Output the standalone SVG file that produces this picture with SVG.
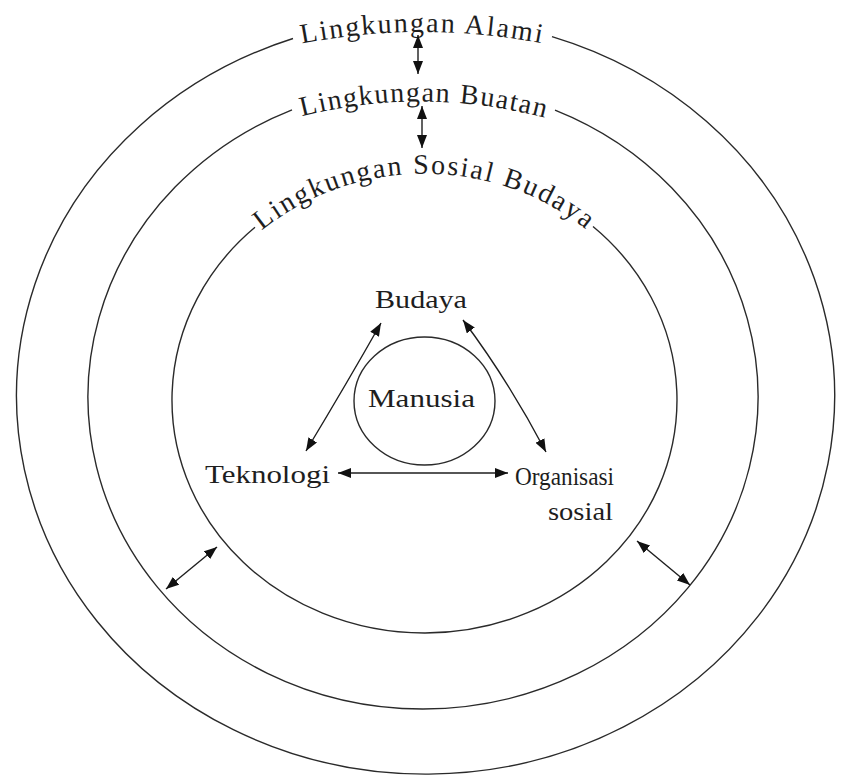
<svg xmlns="http://www.w3.org/2000/svg" width="841" height="778" viewBox="0 0 841 778">
  <style>
    .ring { fill: none; stroke: #2a2a2a; stroke-width: 1.4; }
    .lbl { font-family: "Liberation Serif", "Times New Roman", serif; fill: #1e1e1e; }
    .ringlbl { font-size: 28px; }
    .nodelbl { font-size: 25px; }
    .conn { fill: none; stroke: #1e1e1e; stroke-width: 1.4; marker-start: url(#ah); marker-end: url(#ah); }
  </style>
  <defs>
    <marker id="ah" viewBox="0 0 13 10" refX="13" refY="5" markerWidth="13" markerHeight="10" markerUnits="userSpaceOnUse" orient="auto-start-reverse">
      <path d="M0,0 L13,5 L0,10 z" fill="#111"/>
    </marker>
    <path id="tp-alami" d="M 290 46 Q 422 18 555 46"/>
    <path id="tp-buatan" d="M 288 120 Q 423 82 560 122"/>
    <path id="tp-sosial" d="M 240 251 A 245 226 0 0 1 609 251"/>
  </defs>
  <rect width="841" height="778" fill="#ffffff"/>

  <g id="ring-alami">
    <path class="ring" d="M 552 36.6 A 409 378 0 1 1 293 38.5"/>
    <text class="lbl ringlbl" text-anchor="middle" letter-spacing="2"><textPath href="#tp-alami" startOffset="50%">Lingkungan Alami</textPath></text>
  </g>
  <g id="ring-buatan">
    <path class="ring" d="M 555 110.2 A 335 312 0 1 1 292 109.8"/>
    <text class="lbl ringlbl" text-anchor="middle" letter-spacing="1.5"><textPath href="#tp-buatan" startOffset="50%">Lingkungan Buatan</textPath></text>
  </g>
  <g id="ring-sosial">
    <path class="ring" d="M 593 226.5 A 252.5 233 0 1 1 255 227.3"/>
    <text class="lbl ringlbl" text-anchor="middle" letter-spacing="2"><textPath href="#tp-sosial" startOffset="50%">Lingkungan Sosial Budaya</textPath></text>
  </g>

  <g id="node-manusia">
    <ellipse class="ring" cx="424.5" cy="401" rx="70.5" ry="64"/>
    <text class="lbl nodelbl" x="368" y="407" textLength="107" lengthAdjust="spacingAndGlyphs">Manusia</text>
  </g>
  <g id="node-budaya">
    <text class="lbl nodelbl" x="375" y="308" textLength="92" lengthAdjust="spacingAndGlyphs">Budaya</text>
  </g>
  <g id="node-teknologi">
    <text class="lbl nodelbl" x="205" y="483" textLength="125" lengthAdjust="spacingAndGlyphs">Teknologi</text>
  </g>
  <g id="node-organisasi">
    <text class="lbl nodelbl" x="515" y="485" textLength="99" lengthAdjust="spacingAndGlyphs">Organisasi</text>
    <text class="lbl nodelbl" x="548" y="520" textLength="65" lengthAdjust="spacingAndGlyphs">sosial</text>
  </g>

  <g id="connectors">
    <line class="conn" x1="418" y1="35" x2="418" y2="74"/>
    <line class="conn" x1="422" y1="106" x2="422" y2="148"/>
    <line class="conn" x1="166" y1="589" x2="217" y2="547"/>
    <line class="conn" x1="637" y1="541" x2="690" y2="585"/>
    <path class="conn" d="M 381 323 Q 347 383 306 451"/>
    <path class="conn" d="M 463 320 Q 508 380 546 452"/>
    <line class="conn" x1="338" y1="473" x2="508" y2="473"/>
  </g>
</svg>
